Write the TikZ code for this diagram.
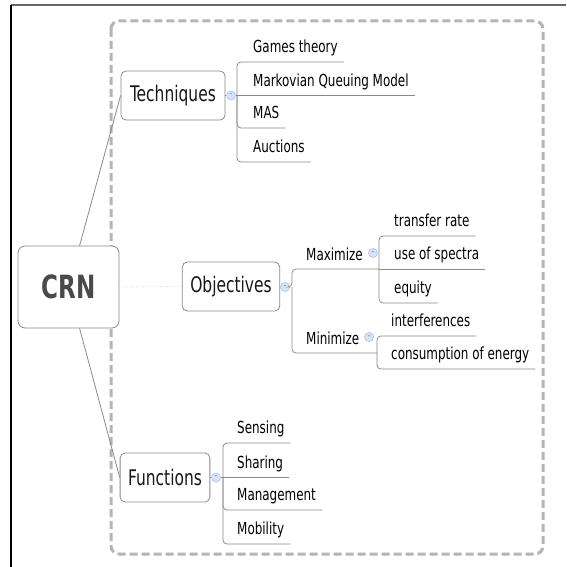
\documentclass[tikz,border=0pt]{standalone}
\usepackage{fontspec}
\setmainfont[FakeStretch=0.8]{DejaVu Sans Condensed}
\usetikzlibrary{calc, positioning}
\definecolor{linegray}{HTML}{8A8A8A}
\definecolor{dashgray}{HTML}{B4B4B4}
\definecolor{btnfill}{HTML}{D6E4F8}
\definecolor{btnline}{HTML}{A9C2EA}
\definecolor{crntext}{HTML}{4A4A4A}

\begin{document}
\begin{tikzpicture}[
    x=1pt, y=-1pt,
    topic/.style={draw=linegray, fill=white, rounded corners=5pt, line width=0.8pt, minimum height=49pt, inner xsep=8pt, font=\fontsize{21.5}{24}\selectfont, text=black!90},
    root/.style={draw=linegray, fill=white, rounded corners=7pt, line width=0.8pt, minimum width=101pt, minimum height=82pt, font=\fontsize{32}{36}\selectfont\bfseries, text=crntext},
    leaf/.style={anchor=south west, inner xsep=6pt, inner ysep=0pt, text height=12pt, text depth=9pt, font=\fontsize{16.6}{18}\selectfont, text=black},
    subtopic/.style={leaf, text depth=8pt},
    btn/.style={circle, draw=btnline, fill=btnfill, minimum size=9pt, inner sep=0pt, line width=0.6pt, font=\fontsize{8}{8}\selectfont, text=black!55},
    branch/.style={draw=linegray, line width=0.8pt, rounded corners=4pt}
]
\useasboundingbox (0,0) rectangle (566,567);
\fill[white] (0,0) rectangle (566,567);
\draw[black!60, line width=1.5pt] (11,5) -- (566,5);
\draw[black, line width=1.2pt] (11,5) -- (11,567);
\draw[dashgray, line width=3pt, dash pattern=on 8pt off 4pt, rounded corners=8pt] (111,21) rectangle (543,554);

\node[root] (crn) at (68.5,287) {CRN};

\node[topic, minimum width=104pt] (tech) at (173,95.5) {Techniques};
\node[btn] (techbtn) at (231,95.5) {--};
\coordinate (techj) at (237,95.5);
\node[leaf] (games) at (247,62) {Games theory};
\node[leaf] (markov) at (247,95.5) {Markovian Queuing Model};
\node[leaf] (mas) at (247,128) {MAS};
\node[leaf] (auct) at (247,162) {Auctions};

\node[topic, minimum width=96pt] (obj) at (231,286.5) {Objectives};
\node[btn] (objbtn) at (285,287) {--};
\coordinate (objj) at (292,287);
\node[subtopic] (max) at (300,269) {Maximize};
\node[btn] (maxbtn) at (373,253) {--};
\coordinate (maxj) at (379,269);
\node[leaf] (rate) at (388,236) {transfer rate};
\node[leaf] (spec) at (388,269) {use of spectra};
\node[leaf] (equ) at (388,303) {equity};
\node[subtopic] (min) at (300,353) {Minimize};
\node[btn] (minbtn) at (369,337) {--};
\coordinate (minj) at (377,353);
\node[leaf] (interf) at (385,336) {interferences};
\node[leaf] (energy) at (385,369) {consumption of energy};

\node[topic, minimum width=88pt] (func) at (165,477.5) {Functions};
\node[btn] (funcbtn) at (216,477.5) {--};
\coordinate (funcj) at (223,477.5);
\node[leaf] (sens) at (231,443) {Sensing};
\node[leaf] (shar) at (231,477.5) {Sharing};
\node[leaf] (manag) at (231,510) {Management};
\node[leaf] (mob) at (231,544) {Mobility};

\draw[linegray, line width=0.8pt] (crn.75) -- (tech.west);
\draw[linegray, line width=0.8pt] (crn.-75) -- (func.west);
\draw[black!35, dotted] (crn.east) -- (obj.west);

\draw[branch] (tech.east) -- (techbtn);
\draw[branch] (techbtn) -- (markov.south east);
\draw[branch] (techj) |- (games.south east);
\draw[branch] (techj) |- (mas.south east);
\draw[branch] (techj) |- (auct.south east);

\draw[branch] (obj.east) -- (objbtn);
\draw[branch] (objbtn) -- (objj) |- (maxj);
\draw[branch] (objj) |- (minj);
\draw[branch] (maxj) -- (spec.south east);
\draw[branch] (maxj) |- (rate.south east);
\draw[branch] (maxj) |- (equ.south east);
\draw[branch] (minj) |- (interf.south east);
\draw[branch] (minj) |- (energy.south east);

\draw[branch] (func.east) -- (funcbtn);
\draw[branch] (funcbtn) -- (shar.south east);
\draw[branch] (funcj) |- (sens.south east);
\draw[branch] (funcj) |- (manag.south east);
\draw[branch] (funcj) |- (mob.south east);
\end{tikzpicture}
\end{document}
